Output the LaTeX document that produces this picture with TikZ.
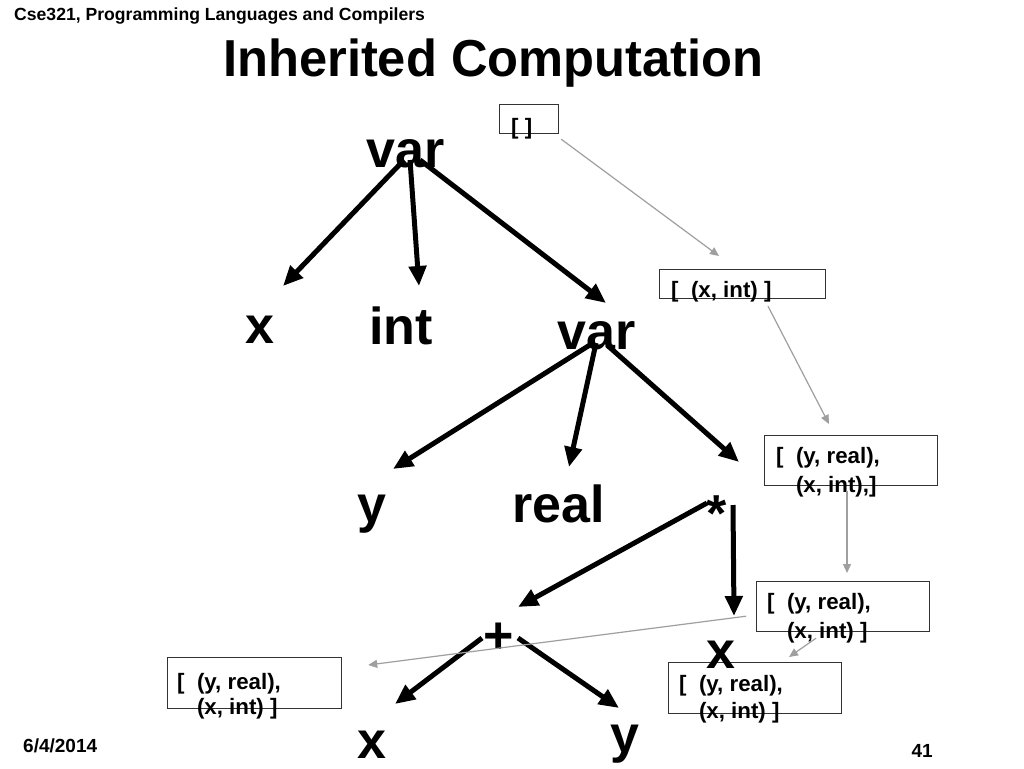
\documentclass[tikz,border=0pt]{standalone}
\usepackage{fontspec}
\setmainfont{Liberation Sans}
\usetikzlibrary{arrows.meta}
\begin{document}
\begin{tikzpicture}[x=1pt,y=-1pt,
  lbl/.style={font=\fontsize{52}{52}\selectfont\bfseries, inner sep=0pt, anchor=base},
  tarrow/.style={line width=5pt, -{Triangle[length=20pt,width=17pt]}},
  garrow/.style={draw=gray!75, line width=1.2pt, -{Triangle[length=9pt,width=8pt]}, color=gray!75},
  box/.style={draw=black!80, line width=1.2pt, inner sep=0pt, anchor=north west},
  btxt/.style={font=\fontsize{22.3}{27}\selectfont\bfseries, inner sep=0pt, anchor=base west},
]
\useasboundingbox[fill=white] (0,0) rectangle (1024,768);

% header, title, footer
\node[font=\fontsize{17.6}{17.6}\selectfont\bfseries, inner sep=0pt, anchor=base west] (hdr) at (14,21) {Cse321, Programming Languages and Compilers};
\node[font=\fontsize{52}{52}\selectfont\bfseries, inner sep=0pt, anchor=base west] (ttl) at (223,76) {\scalebox{0.974}[1]{Inherited Computation}};
\node[font=\fontsize{19}{19}\selectfont\bfseries, inner sep=0pt, anchor=base west] (date) at (23,752) {6/4/2014};
\node[font=\fontsize{19}{19}\selectfont\bfseries, inner sep=0pt, anchor=base east] (pg) at (933,757) {41};

% boxes
\node[box, minimum width=59pt, minimum height=29pt] (b1) at (499,104) {};
\node[box, minimum width=166pt, minimum height=29pt] (b2) at (659,269) {};
\node[box, minimum width=173pt, minimum height=50pt] (b3) at (764,435) {};
\node[box, minimum width=173pt, minimum height=50pt] (b4) at (756,581) {};
\node[box, minimum width=173pt, minimum height=51pt] (b5) at (668,662) {};
\node[box, minimum width=174pt, minimum height=51pt] (b6) at (167,657) {};

\node[btxt] (t1) at ([shift={(12,30)}]b1.north west) {[ ]};
\node[btxt] (t2) at ([shift={(12,28)}]b2.north west) {[\ \ (x, int) ]};
\node[btxt] (t3a) at ([shift={(12,28)}]b3.north west) {[\ \ (y, real),};
\node[btxt] (t3b) at ([shift={(12,57)}]b3.north west) {\phantom{[\ \ }(x, int),]};
\node[btxt] (t4a) at ([shift={(11,28)}]b4.north west) {[\ \ (y, real),};
\node[btxt] (t4b) at ([shift={(11,57)}]b4.north west) {\phantom{[\ \ }(x, int) ]};
\node[btxt] (t5a) at ([shift={(11,29)}]b5.north west) {[\ \ (y, real),};
\node[btxt] (t5b) at ([shift={(11,56)}]b5.north west) {\phantom{[\ \ }(x, int) ]};
\node[btxt] (t6a) at ([shift={(10,32)}]b6.north west) {[\ \ (y, real),};
\node[btxt] (t6b) at ([shift={(10,57)}]b6.north west) {\phantom{[\ \ }(x, int) ]};

% tree labels
\node[lbl] (v1) at (406,167) {var};
\node[lbl] (x1) at (260,343) {x};
\node[lbl] (i1) at (401,344) {int};
\node[lbl] (v2) at (597,349) {var};
\node[lbl] (y1) at (372,522) {y};
\node[lbl] (r1) at (559,522) {real};
\node[lbl] (s1) at (717,531) {*};
\node[lbl] (p1) at (499,653) {+};
\node[lbl] (x2) at (721,668) {x};
\node[lbl] (x3) at (372,758) {x};
\node[lbl] (y2) at (625,752) {y};

% tree arrows
\draw[tarrow] ([shift={(-2,-7)}]v1.base) -- ([shift={(23,-57)}]x1.base);
\draw[tarrow] ([shift={(4,-7)}]v1.base) -- ([shift={(18,-58)}]i1.base);
\draw[tarrow] ([shift={(14,-7)}]v1.base) -- ([shift={(9,-46)}]v2.base);
\draw[tarrow] ([shift={(-4,-6)}]v2.base) -- ([shift={(21,-53)}]y1.base);
\draw[tarrow] ([shift={(-1,-6)}]v2.base) -- ([shift={(10,-55)}]r1.base);
\draw[tarrow] ([shift={(10,-4)}]v2.base) -- ([shift={(22,-69)}]s1.base);
\draw[tarrow] ([shift={(-10,-28)}]s1.base) -- ([shift={(19,-46)}]p1.base);
\draw[tarrow] ([shift={(16,-26)}]s1.base) -- ([shift={(13,-52)}]x2.base);
\draw[tarrow] ([shift={(-17,-15)}]p1.base) -- ([shift={(23,-54)}]x3.base);
\draw[tarrow] ([shift={(19,-15)}]p1.base) -- ([shift={(-6,-44)}]y2.base);

% gray inheritance arrows
\draw[garrow] ([shift={(2,5)}]b1.south east) -- ([shift={(60,-13)}]b2.north west);
\draw[garrow] ([shift={(109,7)}]b2.south west) -- ([shift={(65,-11)}]b3.north west);
\draw[garrow] ([shift={(83,5)}]b3.south west) -- ([shift={(91,-8)}]b4.north west);
\draw[garrow] ([shift={(60,6)}]b4.south west) -- ([shift={(121,-5)}]b5.north west);
\draw[garrow] ([shift={(-10,-16)}]b4.south west) -- ([shift={(26,8)}]b6.north east);
\end{tikzpicture}
\end{document}
